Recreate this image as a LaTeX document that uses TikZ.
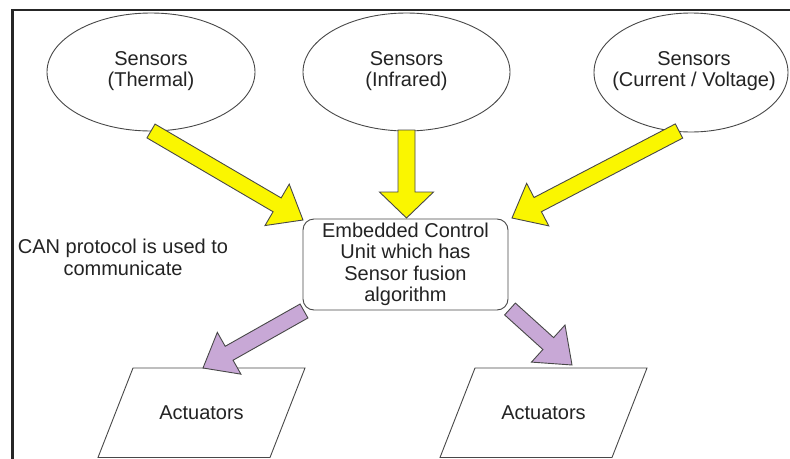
\documentclass[tikz,border=0pt]{standalone}
\usepackage{fontspec}
\setmainfont{Liberation Sans}
\usetikzlibrary{calc}

\definecolor{arrowyellow}{RGB}{250,246,0}
\definecolor{arrowlilac}{RGB}{200,168,214}
\definecolor{edgegray}{RGB}{72,72,72}
\definecolor{inkgray}{RGB}{35,35,35}

% Block arrow: #1 style, #2 tail, #3 tip, #4 half shaft width,
% #5 half head width, #6 head length
\newcommand\blockarrow[6]{%
  \draw[#1]
    ($(#2)!#4!90:(#3)$)
    -- ($(#3)!#6!(#2)!#4!-90:(#2)$)
    -- ($(#3)!#6!(#2)!#5!-90:(#2)$)
    -- (#3)
    -- ($(#3)!#6!(#2)!#5!90:(#2)$)
    -- ($(#3)!#6!(#2)!#4!90:(#2)$)
    -- ($(#2)!#4!-90:(#3)$)
    -- cycle;}

\tikzset{
  label text/.style={font=\fontsize{20}{21.5}\selectfont, text=inkgray, align=center, inner sep=0pt},
  outline/.style={draw=edgegray, line width=0.9pt},
  yellowarrow/.style={fill=arrowyellow, draw=edgegray, line width=0.9pt, line join=miter},
  lilacarrow/.style={fill=arrowlilac, draw=edgegray, line width=0.9pt, line join=miter},
  ecubox/.style={outline, fill=white, rounded corners=11pt, minimum width=205pt,
    minimum height=91pt, label text},
}

\begin{document}
\begin{tikzpicture}[x=1pt, y=-1pt]
  \useasboundingbox (0,0) rectangle (790,458);
  \clip (0,0) rectangle (790,458);
  \fill[white] (0,0) rectangle (790,458);

  % outer frame (top and left edges inside the page)
  \draw[line width=2.5pt, black!85] (12.5,480) |- (810,10);

  % sensor ellipses
  \node[label text] (thermal) at (151,71) {Sensors\\(Thermal)};
  \draw[outline] (151,72) ellipse [x radius=104pt, y radius=59pt];
  \node[label text] (infrared) at (406.5,71) {Sensors\\(Infrared)};
  \draw[outline] (406.5,72) ellipse [x radius=103.5pt, y radius=59pt];
  \node[label text] (currvolt) at (694,71) {Sensors\\(Current / Voltage)};
  \draw[outline] (691,72.5) ellipse [x radius=97pt, y radius=59.5pt];

  % control unit
  \node[ecubox] (ecu) at (405.5,264.5) {Embedded Control\\Unit which has\\Sensor fusion\\algorithm};

  % bus note
  \node[label text] (can) at (123,257.5) {CAN protocol is used to\\communicate};

  % actuators
  \node[label text] (actL) at (201.5,413) {Actuators};
  \node[label text] (actR) at (543.5,413) {Actuators};
  \foreach \a in {actL, actR} {
    \draw[outline] ($(\a)+(-68.5,-45)$) -- ($(\a)+(103.5,-45)$)
      -- ($(\a)+(68.5,44.5)$) -- ($(\a)+(-103.5,44.5)$) -- cycle;
  }

  % arrow end points
  \coordinate (thTail) at (151,131);
  \coordinate (thTip)  at (303,220);
  \coordinate (irTail) at (406.5,130);
  \coordinate (irTip)  at (406.5,218);
  \coordinate (cvTail) at (679,131);
  \coordinate (cvTip)  at (512,218);
  \coordinate (aLTail) at (304,311);
  \coordinate (aLTip)  at (203,368);
  \coordinate (aRTail) at (510,309);
  \coordinate (aRTip)  at (572,365);

  % sensor data into the control unit
  \blockarrow{yellowarrow}{thTail}{thTip}{8pt}{24pt}{30pt}
  \blockarrow{yellowarrow}{irTail}{irTip}{8.5pt}{27pt}{26pt}
  \blockarrow{yellowarrow}{cvTail}{cvTip}{8pt}{24pt}{29pt}

  % commands out to the actuators
  \blockarrow{lilacarrow}{aLTail}{aLTip}{8pt}{24pt}{30pt}
  \blockarrow{lilacarrow}{aRTail}{aRTip}{8pt}{25pt}{32pt}
\end{tikzpicture}
\end{document}
